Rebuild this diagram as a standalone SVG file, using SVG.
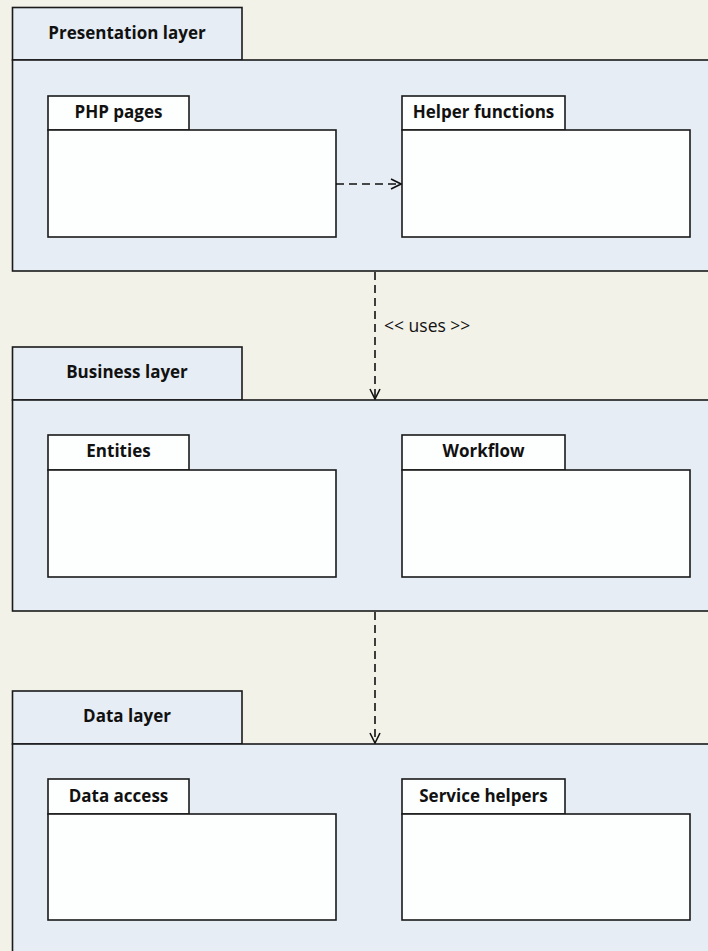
<svg xmlns="http://www.w3.org/2000/svg" width="708" height="951" viewBox="0 0 708 951">
<defs>
<style>
.layer{fill:#e6edf4;stroke:#1a1a1a;stroke-width:1.6}
.pkg{fill:#fdfefe;stroke:#1a1a1a;stroke-width:1.6}
.t{font-family:"Open Sans","Noto Sans","Liberation Sans",sans-serif;font-weight:bold;font-size:17px;fill:#111;text-anchor:middle}
.lbl{font-family:"Open Sans","Noto Sans","Liberation Sans",sans-serif;font-size:17.5px;fill:#111}
.dash{fill:none;stroke:#111;stroke-width:1.6;stroke-dasharray:8,5}
</style>
<marker id="arr" viewBox="0 0 12 12" refX="11" refY="6" markerWidth="12" markerHeight="12" markerUnits="userSpaceOnUse" orient="auto">
<path d="M1,1 L11,6 L1,11" fill="none" stroke="#111" stroke-width="1.6"/>
</marker>
</defs>
<rect width="708" height="951" fill="#f3f2e8"/>
<g id="presentation">
<rect class="layer" x="12.5" y="7.5" width="229.5" height="52.5"/>
<rect class="layer" x="12.5" y="60" width="700" height="211"/>
<text class="t" x="127" y="39">Presentation layer</text>
</g>
<g id="php">
<rect class="pkg" x="48" y="96" width="141" height="34"/>
<rect class="pkg" x="48" y="130" width="288" height="107"/>
<text class="t" x="118.5" y="118">PHP pages</text>
</g>
<g id="helper">
<rect class="pkg" x="402" y="96" width="163" height="34"/>
<rect class="pkg" x="402" y="130" width="288" height="107"/>
<text class="t" x="483.5" y="118">Helper functions</text>
</g>
<g id="business">
<rect class="layer" x="12.5" y="347" width="229.5" height="53"/>
<rect class="layer" x="12.5" y="400" width="700" height="211"/>
<text class="t" x="127" y="378">Business layer</text>
</g>
<g id="entities">
<rect class="pkg" x="48" y="435" width="141" height="35"/>
<rect class="pkg" x="48" y="470" width="288" height="107"/>
<text class="t" x="118.5" y="457">Entities</text>
</g>
<g id="workflow">
<rect class="pkg" x="402" y="435" width="163" height="35"/>
<rect class="pkg" x="402" y="470" width="288" height="107"/>
<text class="t" x="483.5" y="457">Workflow</text>
</g>
<g id="data">
<rect class="layer" x="12.5" y="691" width="229.5" height="53"/>
<rect class="layer" x="12.5" y="744" width="700" height="220"/>
<text class="t" x="127" y="722">Data layer</text>
</g>
<g id="dataaccess">
<rect class="pkg" x="48" y="779" width="141" height="35"/>
<rect class="pkg" x="48" y="814" width="288" height="106"/>
<text class="t" x="118.5" y="802">Data access</text>
</g>
<g id="servicehelpers">
<rect class="pkg" x="402" y="779" width="163" height="35"/>
<rect class="pkg" x="402" y="814" width="288" height="106"/>
<text class="t" x="483.5" y="802">Service helpers</text>
</g>
<g id="connectors">
<line class="dash" x1="336" y1="184" x2="401" y2="184" marker-end="url(#arr)"/>
<line class="dash" x1="375" y1="272" x2="375" y2="399" marker-end="url(#arr)"/>
<line class="dash" x1="375" y1="612" x2="375" y2="743" marker-end="url(#arr)"/>
<text class="lbl" x="384" y="332">&lt;&lt; uses &gt;&gt;</text>
</g>
</svg>
